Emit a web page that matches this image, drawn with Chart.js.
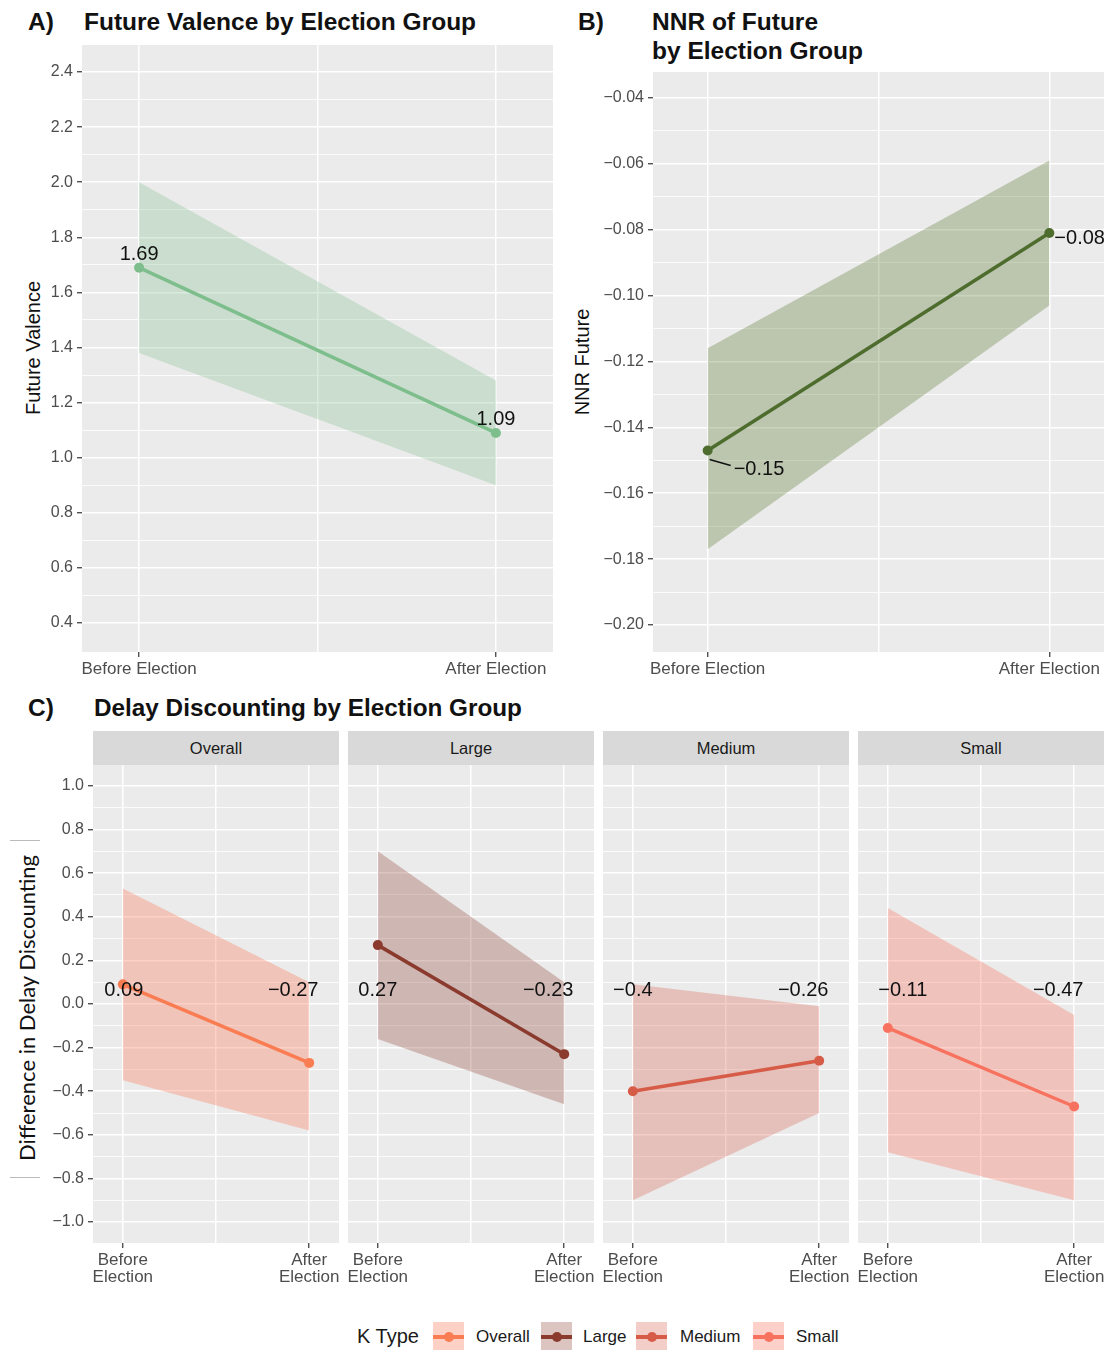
<!DOCTYPE html>
<html>
<head>
<meta charset="utf-8">
<script src="https://cdn.jsdelivr.net/npm/chart.js@4.4.1/dist/chart.umd.min.js"></script>
<style>
  body { margin: 0; background: #fff; width: 1109px; height: 1350px; position: relative; overflow: hidden; font-family: "Liberation Sans", Arial, sans-serif; }
  canvas { position: absolute; }
  .ttl { position: absolute; font-weight: bold; font-size: 24.5px; line-height: 24px; color: #111; white-space: nowrap; }
  .ytitle { position: absolute; transform: translate(-50%, -50%) rotate(-90deg); white-space: nowrap; font-size: 20px; color: #111; }
  .strip { position: absolute; top: 731px; height: 34px; width: 246px; background: #d9d9d9; color: #1a1a1a; font-size: 16.5px; line-height: 34px; text-align: center; }
  .key { position: absolute; top: 1322px; width: 31px; height: 30px; }
  .key i { position: absolute; left: 0; right: 0; top: 13px; height: 4px; }
  .key b { position: absolute; left: 11px; top: 10px; width: 10px; height: 10px; border-radius: 50%; }
  .lg { position: absolute; top: 1327px; font-size: 17px; color: #1a1a1a; white-space: nowrap; }
</style>
</head>
<body>
<div class="ttl" style="left:28px;top:10px">A)</div>
<div class="ttl" style="left:84px;top:10px">Future Valence by Election Group</div>
<div class="ttl" style="left:578px;top:10px">B)</div>
<div class="ttl" style="left:652px;top:7px;line-height:29px">NNR of Future<br>by Election Group</div>
<div class="ttl" style="left:28px;top:696px">C)</div>
<div class="ttl" style="left:94px;top:696px;font-size:24.3px">Delay Discounting by Election Group</div>

<div class="ytitle" style="left:33px;top:348px">Future Valence</div>
<div class="ytitle" style="left:582px;top:362px">NNR Future</div>
<div style="position:absolute;left:10px;top:840px;width:30px;height:1px;background:#bbb"></div>
<div style="position:absolute;left:10px;top:1177px;width:30px;height:1px;background:#bbb"></div>
<div class="ytitle" style="left:26px;top:1008px;font-family:Lato,sans-serif;font-size:22px">Difference in Delay Discounting</div>

<canvas id="chartA" width="521" height="653" style="left:40px;top:29px"></canvas>
<canvas id="chartB" width="512" height="626" style="left:600px;top:56px"></canvas>

<div class="strip" style="left:93px">Overall</div>
<div class="strip" style="left:348px">Large</div>
<div class="strip" style="left:603px">Medium</div>
<div class="strip" style="left:858px">Small</div>
<canvas id="facet0" width="305" height="546" style="left:42px;top:749px"></canvas>
<canvas id="facet1" width="262" height="546" style="left:340px;top:749px"></canvas>
<canvas id="facet2" width="262" height="546" style="left:595px;top:749px"></canvas>
<canvas id="facet3" width="262" height="546" style="left:850px;top:749px"></canvas>

<div id="legend"></div>

<script>
// x groups
const groups = ['Before Election', 'After Election'];
const groupPos = [0, 1];

// A) future valence, mean and ribbon
const valenceMean = [1.69, 1.09];
const valenceLow = [1.38, 0.90];
const valenceHigh = [2.00, 1.28];
const valenceTicks = [0.4, 0.6, 0.8, 1.0, 1.2, 1.4, 1.6, 1.8, 2.0, 2.2, 2.4];

// B) NNR of future
const nnrMean = [-0.147, -0.081];
const nnrLow = [-0.177, -0.103];
const nnrHigh = [-0.116, -0.059];
const nnrTicks = [-0.20, -0.18, -0.16, -0.14, -0.12, -0.10, -0.08, -0.06, -0.04];

// C) delay discounting, one facet per K type
const kTypes = ['Overall', 'Large', 'Medium', 'Small'];
const overallMean = [0.09, -0.27];
const overallLow = [-0.35, -0.58];
const overallHigh = [0.53, 0.10];
const largeMean = [0.27, -0.23];
const largeLow = [-0.16, -0.46];
const largeHigh = [0.70, 0.10];
const mediumMean = [-0.40, -0.26];
const mediumLow = [-0.90, -0.50];
const mediumHigh = [0.09, -0.01];
const smallMean = [-0.11, -0.47];
const smallLow = [-0.68, -0.90];
const smallHigh = [0.44, -0.05];
const ddTicks = [-1.0, -0.8, -0.6, -0.4, -0.2, 0.0, 0.2, 0.4, 0.6, 0.8, 1.0];

const FONT = '"Liberation Sans", Arial, sans-serif';
Chart.defaults.font.family = FONT;

const minus = s => String(s).replace('-', '\u2212');
const lab = v => minus(Math.round(v * 100) / 100);
const withMinor = majors => {
  const out = [];
  majors.forEach((v, i) => {
    out.push(v);
    if (i < majors.length - 1) out.push((v + majors[i + 1]) / 2);
  });
  return out;
};

// grey panel behind the plot
const plotBg = {
  id: 'plotBg',
  beforeDraw(chart) {
    const { ctx, chartArea: a } = chart;
    ctx.save();
    ctx.fillStyle = '#ebebeb';
    ctx.fillRect(a.left, a.top, a.right - a.left, a.bottom - a.top);
    ctx.restore();
  }
};

// text labels next to the points
const valueLabels = {
  id: 'valueLabels',
  afterDatasetsDraw(chart, args, opts) {
    const { ctx, scales: { x, y } } = chart;
    ctx.save();
    ctx.font = '20px ' + FONT;
    ctx.fillStyle = '#111';
    ctx.textBaseline = 'middle';
    (opts.items || []).forEach(it => {
      const px = x.getPixelForValue(it.x), py = y.getPixelForValue(it.y);
      if (it.lead) {
        ctx.strokeStyle = '#111';
        ctx.lineWidth = 1.5;
        ctx.beginPath();
        ctx.moveTo(px + 2, py + 9);
        ctx.lineTo(px + 23, py + 15);
        ctx.stroke();
      }
      ctx.textAlign = it.align || 'center';
      ctx.fillText(it.text, px + (it.dx || 0), py + (it.dy || 0));
    });
    ctx.restore();
  }
};

function xScale(height, twoLine) {
  return {
    type: 'linear', min: -0.16, max: 1.16,
    afterBuildTicks: s => { s.ticks = [0, 0.5, 1].map(v => ({ value: v })); },
    afterFit: s => { s.height = height; },
    border: { display: false },
    grid: {
      color: '#ffffff', lineWidth: 1.5, tickLength: 5, tickWidth: 1.2,
      tickColor: c => (c.tick && c.tick.value === 0.5) ? 'rgba(0,0,0,0)' : '#333'
    },
    ticks: {
      autoSkip: false, maxRotation: 0, padding: 3, color: '#4d4d4d',
      font: { size: 17, lineHeight: 1.05 },
      callback: v => {
        const i = groupPos.indexOf(v);
        if (i < 0) return '';
        return twoLine ? groups[i].split(' ') : groups[i];
      }
    }
  };
}

function yScale(min, max, majors, width, digits, showLabels) {
  const isMajor = v => majors.some(m => Math.abs(m - v) < 1e-9);
  return {
    type: 'linear', min, max,
    afterBuildTicks: s => { s.ticks = withMinor(majors).map(v => ({ value: v })); },
    afterFit: s => { s.width = width; },
    border: { display: false },
    grid: {
      color: '#ffffff',
      lineWidth: c => (c.tick && !isMajor(c.tick.value)) ? 0.8 : 1.5,
      drawTicks: showLabels, tickLength: 5, tickWidth: 1.2,
      tickColor: c => (c.tick && isMajor(c.tick.value)) ? '#333' : 'rgba(0,0,0,0)'
    },
    ticks: {
      display: showLabels, autoSkip: false, padding: 4, color: '#4d4d4d',
      font: { size: 16 },
      callback: v => isMajor(v) ? minus(v.toFixed(digits)) : ''
    }
  };
}

function panel(id, o) {
  const pts = arr => arr.map((v, i) => ({ x: groupPos[i], y: v }));
  return new Chart(document.getElementById(id), {
    type: 'line',
    data: {
      datasets: [
        { data: pts(o.mean), borderColor: o.color, backgroundColor: o.color, borderWidth: 3.5,
          pointRadius: 5, pointBorderWidth: 0, pointBackgroundColor: o.color, fill: false },
        { data: pts(o.high), borderWidth: 0, borderColor: 'rgba(0,0,0,0)', pointRadius: 0, fill: false },
        { data: pts(o.low), borderWidth: 0, borderColor: 'rgba(0,0,0,0)', pointRadius: 0, fill: '-1', backgroundColor: o.band }
      ]
    },
    options: {
      responsive: false, animation: false, events: [],
      layout: { padding: { top: 16, right: 8, left: o.padLeft || 0, bottom: 0 } },
      plugins: { legend: { display: false }, tooltip: { enabled: false }, valueLabels: { items: o.labels } },
      scales: { x: xScale(o.xHeight, o.twoLine), y: o.y }
    },
    plugins: [plotBg, valueLabels]
  });
}

// A
panel('chartA', {
  mean: valenceMean, low: valenceLow, high: valenceHigh,
  color: 'rgb(126,190,140)', band: 'rgba(126,190,140,0.3)',
  xHeight: 30, twoLine: false,
  y: yScale(0.295, 2.498, valenceTicks, 42, 1, true),
  labels: [
    { x: 0, y: valenceMean[0], text: lab(valenceMean[0]), dy: -13 },
    { x: 1, y: valenceMean[1], text: lab(valenceMean[1]), dy: -13 }
  ]
});

// B
panel('chartB', {
  mean: nnrMean, low: nnrLow, high: nnrHigh,
  color: 'rgb(78,108,46)', band: 'rgba(78,112,38,0.3)',
  xHeight: 30, twoLine: false,
  y: yScale(-0.2082, -0.0321, nnrTicks, 53, 2, true),
  labels: [
    { x: 0, y: nnrMean[0], text: lab(nnrMean[0]), dx: 26, dy: 19, align: 'left', lead: true },
    { x: 1, y: nnrMean[1], text: lab(nnrMean[1]), dx: 5, dy: 5, align: 'left' }
  ]
});

// C facets
const facetData = [
  { mean: overallMean, low: overallLow, high: overallHigh, color: 'rgb(250,124,82)', band: 'rgba(250,124,90,0.35)', nudge: 1 },
  { mean: largeMean, low: largeLow, high: largeHigh, color: 'rgb(139,58,46)', band: 'rgba(139,58,46,0.3)', nudge: 0 },
  { mean: mediumMean, low: mediumLow, high: mediumHigh, color: 'rgb(214,92,72)', band: 'rgba(214,92,72,0.3)', nudge: 0 },
  { mean: smallMean, low: smallLow, high: smallHigh, color: 'rgb(248,115,95)', band: 'rgba(248,115,95,0.33)', nudge: 15 }
];
const ddLabelY = 0.06;
facetData.forEach((f, i) => {
  panel('facet' + i, {
    mean: f.mean, low: f.low, high: f.high, color: f.color, band: f.band,
    xHeight: 52, twoLine: true, padLeft: 8,
    y: yScale(-1.096, 1.096, ddTicks, i === 0 ? 43 : 0, 1, i === 0),
    labels: [
      { x: 0, y: ddLabelY, text: lab(f.mean[0]), dx: f.nudge },
      { x: 1, y: ddLabelY, text: lab(f.mean[1]), dx: -16 }
    ]
  });
});

// legend
const legend = document.getElementById('legend');
const keyLeft = [433, 541, 636, 753];
const textLeft = [476, 583, 680, 796];
let html = '<div class="lg" style="left:357px;top:1325px;font-size:20px">K Type</div>';
kTypes.forEach((k, i) => {
  const f = facetData[i];
  html += '<div class="key" style="left:' + keyLeft[i] + 'px;background:' + f.band + '"><i style="background:' + f.color + '"></i><b style="background:' + f.color + '"></b></div>';
  html += '<div class="lg" style="left:' + textLeft[i] + 'px">' + k + '</div>';
});
legend.innerHTML = html;
</script>
</body>
</html>
